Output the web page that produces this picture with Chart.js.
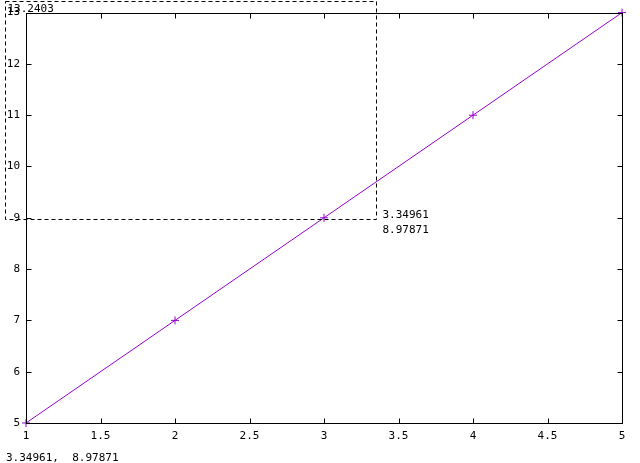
<!DOCTYPE html>
<html><head><meta charset="utf-8">
<script src="https://cdn.jsdelivr.net/npm/chart.js@4"></script>
<style>html,body{margin:0;padding:0;background:#fff}#wrap{width:640px;height:463px;position:relative}</style>
</head><body>
<div id="wrap"><canvas id="c" width="640" height="463"></canvas></div>
<script>
// Data
const xValues = [1, 2, 3, 4, 5];
const yValues = [5, 7, 9, 11, 13];
const xTickLabels = ['1', '1.5', '2', '2.5', '3', '3.5', '4', '4.5', '5'];
const yTickLabels = ['5', '6', '7', '8', '9', '10', '11', '12', '13'];
// zoom-selection box corners (x, y) in data units
const boxX = [0.86, 3.34961];
const boxY = [13.23, 8.97871];
const boxLabelStart = ['13.2403'];
const boxLabelEnd = ['3.34961', '8.97871'];
const statusText = '3.34961,  8.97871';

const FONT = '11px "DejaVu Sans Mono"';
const PURPLE = '#9400d3';

const framePlugin = {
  id: 'frame',
  afterDraw(chart) {
    const ctx = chart.ctx, a = chart.chartArea;
    const xs = chart.scales.x, ys = chart.scales.y;
    ctx.save();
    // frame
    ctx.strokeStyle = '#000'; ctx.lineWidth = 1; ctx.setLineDash([]);
    const L = Math.round(a.left) + 0.5, R = Math.round(a.right) + 0.5;
    const T = Math.round(a.top) + 0.5, B = Math.round(a.bottom) + 0.5;
    ctx.strokeRect(L, T, R - L, B - T);
    // inward ticks
    const tl = 5;
    ctx.beginPath();
    xs.ticks.forEach(t => {
      const px = Math.round(xs.getPixelForValue(t.value)) + 0.5;
      ctx.moveTo(px, B); ctx.lineTo(px, B - tl);
      ctx.moveTo(px, T); ctx.lineTo(px, T + tl);
    });
    ys.ticks.forEach(t => {
      const py = Math.round(ys.getPixelForValue(t.value)) + 0.5;
      ctx.moveTo(L, py); ctx.lineTo(L + tl, py);
      ctx.moveTo(R, py); ctx.lineTo(R - tl, py);
    });
    ctx.stroke();
    // dashed selection box
    const bx0 = Math.round(xs.getPixelForValue(boxX[0])) + 0.5;
    const bx1 = Math.round(xs.getPixelForValue(boxX[1])) + 0.5;
    const by0 = Math.round(ys.getPixelForValue(boxY[0])) + 0.5;
    const by1 = Math.round(ys.getPixelForValue(boxY[1])) + 0.5;
    ctx.setLineDash([4, 3]);
    ctx.strokeRect(bx0, by0, bx1 - bx0, by1 - by0);
    ctx.setLineDash([]);
    // texts
    ctx.fillStyle = '#000'; ctx.font = FONT; ctx.textAlign = 'left'; ctx.textBaseline = 'alphabetic';
    ctx.fillText(boxLabelStart[0], bx0 + 2, by0 + 10.5);
    ctx.fillText(boxLabelEnd[0], bx1 + 6, by1 - 2);
    ctx.fillText(boxLabelEnd[1], bx1 + 6, by1 + 13);
    ctx.fillText(statusText, 6, 461);
    ctx.restore();
  }
};

new Chart(document.getElementById('c'), {
  type: 'scatter',
  data: {
    datasets: [{
      data: xValues.map((x, i) => ({x: x, y: yValues[i]})),
      showLine: true,
      borderColor: PURPLE,
      backgroundColor: PURPLE,
      borderWidth: 1,
      pointStyle: 'cross',
      pointRadius: 4,
      pointBorderWidth: 1,
      pointHoverRadius: 4,
      clip: false
    }]
  },
  options: {
    responsive: false,
    animation: false,
    events: [],
    layout: {padding: {left: 0, top: 12, right: 18, bottom: 0}},
    plugins: {legend: {display: false}, tooltip: {enabled: false}},
    scales: {
      x: {
        type: 'linear', min: 1, max: 5,
        grid: {display: false, drawTicks: false},
        border: {display: false},
        afterFit(s) { s.height = 40; },
        ticks: {
          stepSize: 0.5, autoSkip: false, maxRotation: 0, padding: 7,
          color: '#000', font: {family: 'DejaVu Sans Mono', size: 11},
          callback: (v, i) => xTickLabels[i]
        }
      },
      y: {
        type: 'linear', min: 5, max: 13,
        grid: {display: false, drawTicks: false},
        border: {display: false},
        afterFit(s) { s.width = 26; },
        ticks: {
          stepSize: 1, autoSkip: false, padding: 6,
          color: '#000', font: {family: 'DejaVu Sans Mono', size: 11},
          callback: (v, i) => yTickLabels[i]
        }
      }
    }
  },
  plugins: [framePlugin]
});
</script>
</body></html>
